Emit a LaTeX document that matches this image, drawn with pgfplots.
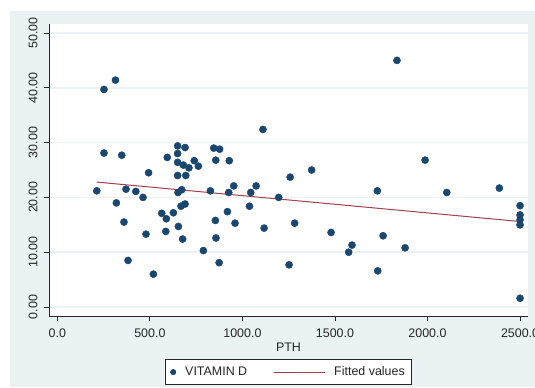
\documentclass[border=0pt]{standalone}
\usepackage{pgfplots}
\pgfplotsset{compat=1.18}
\usepackage{fontspec}
\setmainfont{Liberation Sans}
\definecolor{bg}{HTML}{EAF2F3}
\definecolor{navy}{HTML}{1A476F}
\definecolor{fitc}{HTML}{A0424B}
\begin{document}
\begin{tikzpicture}[x=1bp,y=1bp]
\path[use as bounding box] (0,0) rectangle (535,-387);
\fill[white] (0,0) rectangle (535,-387);
\fill[bg] (10,-11) rectangle (535,-387);
\begin{axis}[
  at={(49bp,-316bp)}, anchor=south west,
  scale only axis, width=479bp, height=292bp,
  xmin=-45, xmax=2543, ymin=-1.64, ymax=51.64,
  axis background/.style={fill=white},
  axis x line*=bottom, axis y line*=left,
  axis line style={-, black!85, line width=0.9bp},
  xtick={0,500,1000,1500,2000,2500},
  ytick={0,10,20,30,40,50},
  tick align=outside, major tick length=5bp,
  tick style={black!85, line width=0.8bp},
  ymajorgrids, major grid style={bg, line width=1.5bp},
  /pgf/number format/assume math mode=true,
  xticklabel shift=4.5bp, yticklabel shift=3bp,
  x tick label style={/pgf/number format/.cd, fixed, fixed zerofill, precision=1, 1000 sep={}},
  y tick label style={rotate=90, anchor=south, /pgf/number format/.cd, fixed, fixed zerofill, precision=2, 1000 sep={}},
  ticklabel style={font=\fontsize{12.5}{14}\selectfont, text=black!85},
  xlabel={PTH}, xlabel style={font=\fontsize{12.5}{14}\selectfont, text=black!85, yshift=2bp},
  legend columns=2,
  legend style={at={(0.5,-0.147)}, anchor=north, draw=black!85, line width=0.8bp, fill=white,
    font=\fontsize{12.5}{14}\selectfont, text=black!85,
    /tikz/every odd column/.append style={column sep=7bp},
    /tikz/every even column/.append style={column sep=24bp},
    inner ysep=5.5bp, inner xsep=5bp},
  legend cell align=left,
]
\addplot[only marks, mark=*, mark size=3.6pt, mark options={fill=navy, draw=navy},
  legend image code/.code={\path[draw=none, fill=none] (0bp,0bp) -- (5bp,0bp); \fill[navy] (2.5bp,0bp) circle[radius=2.6bp];}] coordinates {
(213,21.2) (252,39.7) (252,28.1) (314,41.4) (319,19.0) (348,27.7) (360,15.5)
(371,21.5) (382,8.5) (424,21.1) (463,20.0) (479,13.3) (493,24.5) (519,6.0)
(564,17.1) (586,13.8) (589,16.1) (594,27.3) (627,17.2) (650,29.4) (650,28.0)
(650,26.4) (650,24.0) (654,14.7) (652,20.9) (672,21.4) (668,18.4) (677,12.4)
(681,25.9) (690,29.1) (690,18.8) (694,24.0) (711,25.4) (740,26.7) (762,25.7)
(789,10.3) (827,21.2) (845,29.0) (877,28.8) (856,26.8) (854,15.8) (857,12.6)
(874,8.1) (919,17.4) (926,20.9) (929,26.7) (953,22.1) (960,15.3) (1038,18.4)
(1045,20.9) (1074,22.1) (1111,32.4) (1117,14.4) (1196,20.0) (1252,7.7)
(1258,23.7) (1282,15.3) (1374,25.0) (1479,13.6) (1574,10.0) (1592,11.3)
(1729,21.2) (1731,6.6) (1760,13.0) (1835,45.0) (1879,10.8) (1987,26.8)
(2104,20.9) (2388,21.7) (2500,18.5) (2500,16.8) (2500,15.9) (2500,15.0) (2500,1.6)
};
\addlegendentry{VITAMIN D}
\addplot[fitc, line width=1bp, no marks,
  legend image code/.code={\draw[fitc, line width=1bp] (0bp,0bp) -- (51bp,0bp);}] coordinates {(213,22.8) (2500,15.6)};
\addlegendentry{Fitted values}
\end{axis}
\end{tikzpicture}
\end{document}
